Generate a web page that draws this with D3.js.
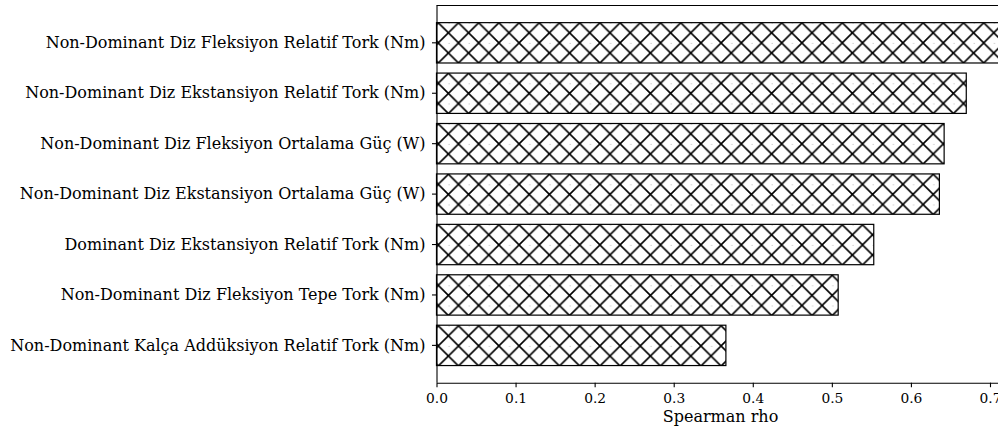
<!DOCTYPE html>
<html>
<head>
<meta charset="utf-8">
<script src="https://cdn.jsdelivr.net/npm/d3@7"></script>
<style>
  html, body { margin: 0; padding: 0; background: #fff; }
  svg { display: block; }
  text { font-family: "DejaVu Serif", serif; fill: #000; }
</style>
</head>
<body>
<svg id="canvas"></svg>
<script>
// ---------------- datos ----------------
let labels = [
  'Non-Dominant Diz Fleksiyon Relatif Tork (Nm)',
  'Non-Dominant Diz Ekstansiyon Relatif Tork (Nm)',
  'Non-Dominant Diz Fleksiyon Ortalama Güç (W)',
  'Non-Dominant Diz Ekstansiyon Ortalama Güç (W)',
  'Dominant Diz Ekstansiyon Relatif Tork (Nm)',
  'Non-Dominant Diz Fleksiyon Tepe Tork (Nm)',
  'Non-Dominant Kalça Addüksiyon Relatif Tork (Nm)'
]
let rho = [0.74, 0.670, 0.642, 0.636, 0.553, 0.508, 0.366]
let xTicks = [0.0, 0.1, 0.2, 0.3, 0.4, 0.5, 0.6, 0.7]
let xTitle = 'Spearman rho'

let width = 998
let height = 430
let plotLeft = 436.5
let plotTop = 5.5
let plotBottom = 382.7

let canvas = d3.select('#canvas')
  .attr('width', width)
  .attr('height', height)

// patrón de rayado 'x'
let s = 20.2
let pat = canvas.append('defs').append('pattern')
  .attr('id', 'hatch')
  .attr('patternUnits', 'userSpaceOnUse')
  .attr('width', s)
  .attr('height', s)
  .attr('x', 438.3)
  .attr('y', 22.7)
pat.append('rect').attr('width', s).attr('height', s).attr('fill', '#fff')
pat.append('path')
  .attr('d', `M0,0L${s},${s}M0,${s}L${s},0M${-s/2},${s/2}L0,${s}M${s/2},0L${s},${-s/2}`)
  .attr('stroke', '#000')
  .attr('stroke-width', 1.6)

let xScale = d3.scaleLinear()
  .domain([0, 0.8])
  .range([plotLeft, plotLeft + 790.7 * 0.8])

let yScale = d3.scaleBand()
  .domain(labels)
  .range([plotTop, plotBottom])
  .paddingInner(0.2)
  .paddingOuter(0.34)

canvas.selectAll('rect.bar')
  .data(labels)
  .enter()
  .append('rect')
  .attr('class', 'bar')
  .attr('x', xScale(0))
  .attr('y', (d) => yScale(d))
  .attr('width', (d, i) => xScale(rho[i]) - xScale(0))
  .attr('height', yScale.bandwidth())
  .attr('fill', 'url(#hatch)')
  .attr('stroke', '#000')
  .attr('stroke-width', 1.2)

// spine de arriba
canvas.append('line')
  .attr('x1', plotLeft).attr('x2', width)
  .attr('y1', plotTop).attr('y2', plotTop)
  .attr('stroke', '#000').attr('stroke-width', 1.1)

let xAxis = d3.axisBottom(xScale)
  .tickValues(xTicks)
  .tickFormat(d3.format('.1f'))
  .tickSize(4.5)
  .tickSizeOuter(0)

let gx = canvas.append('g')
  .attr('transform', 'translate(0,' + plotBottom + ')')
  .call(xAxis)
gx.select('.domain').attr('stroke-width', 1.1)
gx.selectAll('.tick line').attr('stroke-width', 1.1)
gx.selectAll('.tick text')
  .attr('font-size', '13.8px')
  .attr('font-family', '"DejaVu Serif", serif')
  .attr('dy', '0.95em')

let yAxis = d3.axisLeft(yScale)
  .tickSize(4.5)
  .tickSizeOuter(0)
  .tickPadding(6.5)

let gy = canvas.append('g')
  .attr('transform', 'translate(' + plotLeft + ',0)')
  .call(yAxis)
gy.select('.domain')
  .attr('d', `M0.5,${plotTop}V${plotBottom}`)
  .attr('stroke-width', 1.1)
gy.selectAll('.tick line').attr('stroke-width', 1.1)
gy.selectAll('.tick text')
  .attr('font-size', '16px')
  .attr('font-family', '"DejaVu Serif", serif')

canvas.append('text')
  .attr('x', 720.5)
  .attr('y', 422)
  .attr('text-anchor', 'middle')
  .attr('font-size', '16px')
  .text(xTitle)
</script>
</body>
</html>
